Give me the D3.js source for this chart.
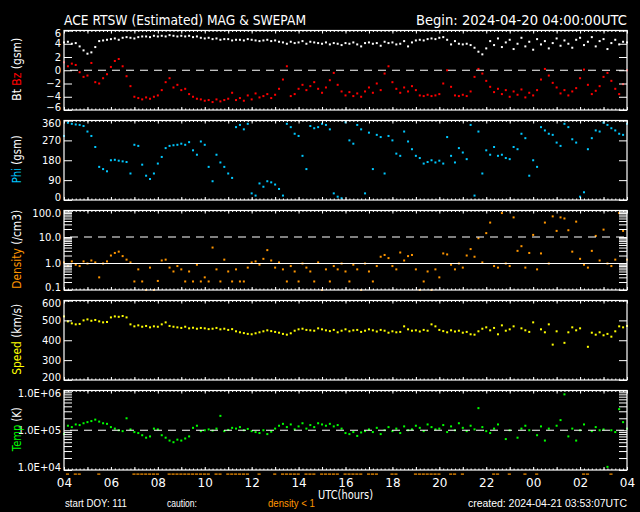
<!DOCTYPE html>
<html>
<head>
<meta charset="utf-8">
<script src="https://cdn.jsdelivr.net/npm/d3@7"></script>
<style>
  body { margin: 0; background: #000; }
  svg { display: block; }
  text { font-family: "DejaVu Sans", sans-serif; fill: #fff; }
  text.foot { font-family: "Liberation Sans", sans-serif; }
</style>
</head>
<body>
<svg id="chart"></svg>
<script>
// ACE RTSW, one sample every 10 minutes starting 2024-04-20 04:00 UTC
const startTime = new Date(Date.UTC(2024, 3, 20, 4, 0, 0));
const stepMinutes = 10;

const btValues = [
  4.2, 4.3, 4.0, 4.1, 3.6, 3.0, 2.5, 2.7, 3.5, 4.4, 4.5, 4.6,
  4.7, 4.8, 4.6, 4.9, 5.0, 4.9, 4.8, 5.0, 5.1, 5.1, 5.0, 5.2,
  5.1, 5.2, 5.1, 5.3, 5.2, 5.1, 5.2, 5.1, 5.2, 5.0, 5.1, 4.9,
  4.8, 4.9, 4.7, 4.8, 4.6, 4.7, 4.7, 4.5, 4.6, 4.6, 4.5, 4.7,
  4.6, 4.5, 4.4, 4.5, 4.6, 4.4, 4.5, 4.3, 4.2, 4.0, 4.3, 4.1,
  4.2, 4.4, 4.0, 4.3, 4.2, 4.1, 4.0, 4.2, 3.9, 4.1, 4.0, 3.8,
  4.1, 4.0, 4.2, 3.9, 3.6, 4.1, 4.2, 4.0, 4.1, 3.7, 4.3, 4.1,
  4.2, 3.9, 4.0, 4.4, 3.6, 4.2, 4.5, 4.6, 4.5, 4.7, 4.8, 4.7,
  4.9, 5.0, 4.6, 3.9, 4.4, 4.0, 3.9, 4.0, 3.8, 3.4, 2.8, 2.4,
  3.3, 4.4, 3.8, 4.8, 3.5, 4.2, 4.6, 3.2, 4.0, 4.9, 3.6, 4.3,
  3.1, 4.7, 3.9, 4.4, 3.3, 4.1, 4.8, 3.7, 4.5, 4.0, 3.4, 4.6,
  4.9, 3.8, 4.3, 5.0, 3.6, 4.4, 4.7, 3.2, 4.1, 4.6, 3.9, 4.3,
  4.2
];

const bzValues = [
  1.2, 0.6, 1.0, 0.8, -0.3, -1.0, -0.8, 1.1, -1.8, -2.0, -1.2, -0.6,
  0.5, 1.4, 1.7, 0.6, -0.9, -2.4, -4.0, -4.2, -4.4, -4.1, -4.3, -4.0,
  -3.8, -3.0, -1.8, -1.2, -2.6, -2.2, -3.0, -2.8, -3.6, -4.0, -4.3, -4.4,
  -4.6, -4.5, -4.8, -4.4, -4.7, -4.5, -4.3, -3.4, -4.5, -4.2, -4.6, -3.8,
  -4.4, -3.5, -4.1, -3.9, -3.6, -4.2, -3.7, -2.8, -1.4, 0.6, -3.9, -3.6,
  -2.8, -2.2, -3.0, -2.4, -1.8, -2.8, -3.4, -2.6, -1.5, -0.4, -2.2, -3.2,
  -3.8, -3.3, -3.9, -3.5, -4.0, -3.2, -2.6, -3.4, -2.0, -3.0, -0.5, 0.6,
  -1.8, -2.8, -3.4, -2.6, -3.2, -2.4, -3.0, -3.8, -3.9, -3.7, -3.9, -3.8,
  -3.6, -2.0, 0.0, -2.5, -3.8, -3.9, -3.7, -3.9, -3.2, -1.0, 0.2, -0.5,
  -1.6, -2.5, -3.3, -2.8, -3.6, -3.0, -4.0, -3.2, -3.7, -2.9, -4.1, -3.4,
  -3.8, -3.0, -1.4, 0.2, -0.8, -1.9, -2.6, -3.5, -3.0, -3.8, -3.2, -2.7,
  -1.2, 0.1, -2.2, -3.6, -3.1, -2.4, -1.0, -0.4, -1.6, -2.8, -3.6, -2.1,
  0.0
];

const phiValues = [
  290, 350, 345, 342, 340, 335, 310, 290, 240, 150, 140, 130,
  180, 182, 178, 175, 172, 120, 250, 245, 160, 110, 95, 120,
  165, 195, 235, 245, 248, 250, 255, 250, 262, 225, 205, 265,
  250, 150, 85, 205, 170, 150, 120, 100, 330, 340, 320, 345,
  30, 20, 75, 60, 85, 80, 70, 50, 20, 345, 330, 300,
  290, 200, 140, 335, 325, 330, 345, 340, 320, 30, 15, 8,
  352, 270, 255, 340, 320, 30, 305, 140, 295, 285, 120, 290,
  270, 210, 200, 310, 265, 230, 200, 190, 165, 172, 180, 170,
  178, 165, 285, 200, 170, 235, 215, 185, 340, 20, 310, 120,
  225, 205, 240, 200, 205, 190, 185, 240, 230, 300, 280, 110,
  180, 150, 330, 315, 300, 295, 260, 245, 345, 330, 275, 260,
  15, 35, 230, 280, 315, 310, 350, 340, 325, 315, 300, 295,
  345
];

const densityValues = [
  1.1, 0.8, 1.2, 0.9, 0.8, 1.2, 1.0, 1.3, 1.1, 0.3, 1.0, 1.2,
  2.0, 2.5, 2.8, 1.9, 1.4, 1.1, 0.21, 0.6, 0.21, 0.1, 0.7, 0.1,
  0.22, 1.3, 1.4, 0.7, 0.5, 0.8, 0.6, 0.21, 0.5, 0.21, 0.9, 0.21,
  0.3, 0.21, 4.0, 0.6, 0.21, 1.4, 0.5, 0.21, 0.6, 0.21, 0.21, 0.7,
  1.1, 1.2, 0.9, 1.5, 3.2, 1.3, 0.7, 1.1, 0.6, 0.21, 0.8, 0.5,
  0.21, 1.0, 0.7, 0.5, 0.21, 1.1, 0.1, 0.6, 0.21, 0.8, 0.6, 1.0,
  0.5, 0.21, 0.9, 0.6, 0.1, 1.0, 0.5, 0.21, 0.8, 1.8, 2.1, 1.6,
  0.8, 0.6, 2.6, 1.3, 1.9, 2.1, 0.6, 0.1, 0.21, 0.5, 0.1, 0.6,
  0.3, 2.4, 2.2, 0.9, 0.6, 1.0, 0.7, 2.0, 3.5, 1.8, 9.0, 1.1,
  14, 35, 0.8, 0.7, 80, 1.0, 0.8, 55, 3.0, 4.5, 0.7, 2.5,
  12, 0.6, 2.4, 35, 1.0, 60, 17, 55, 50, 18, 2.8, 38,
  1.5, 0.9, 0.7, 3.0, 11, 1.3, 19, 1.0, 0.8, 1.4, 80, 17,
  1.4
];

const speedValues = [
  520, 495, 485, 480, 482, 500, 505, 498, 502, 495, 490, 492,
  515, 520, 518, 522, 515, 480, 470, 475, 468, 472, 465, 470,
  468, 480, 490, 472, 468, 465, 462, 468, 460, 463, 458, 462,
  460, 456, 458, 462, 455, 458, 452, 456, 445, 440, 436, 432,
  430, 435, 440, 445, 450, 446, 442, 438, 432, 428, 435, 448,
  455, 458, 452, 450, 448, 460, 455, 450, 446, 452, 440, 448,
  455, 445, 450, 452, 442, 448, 455, 450, 444, 452, 448, 438,
  445, 440, 442, 470, 455, 448, 450, 444, 452, 448, 480, 470,
  452, 446, 440, 450, 444, 448, 438, 442, 430, 428, 445, 458,
  465, 450, 462, 430, 475, 448, 455, 470, null, 460, 450, 442,
  490, null, 455, 440, 480, 378, 445, null, 387, 440, 465, 450,
  460, null, 367, 438, 428, 440, 425, 432, 418, 445, 470, 465,
  472
];

const tempValues = [
  80000, 130000, 120000, 140000, 135000, 150000, 160000, 170000, 185000, 165000, 150000, 145000,
  120000, 110000, 100000, 95000, 200000, 105000, 90000, 85000, 75000, 65000, 70000, 110000,
  105000, 75000, 65000, 55000, 50000, 58000, 55000, 62000, 70000, 115000, 130000, 95000,
  100000, 105000, 98000, 110000, 230000, 95000, 102000, 115000, 110000, 120000, 100000, 108000,
  95000, 90000, 85000, 100000, 80000, 92000, 110000, 130000, 145000, 120000, 140000, 105000,
  125000, 150000, 110000, 135000, 120000, 150000, 140000, 130000, 145000, 125000, 135000, 110000,
  85000, 80000, 90000, 72000, 88000, 95000, 105000, 90000, 115000, 80000, 100000, 120000,
  95000, 110000, 85000, 125000, 100000, 105000, 130000, 115000, 95000, 140000, 120000, 105000,
  110000, 135000, 90000, 125000, 100000, 150000, 115000, 95000, 130000, 105000, 360000, 120000,
  95000, 85000, 110000, 140000, null, 60000, 100000, null, 65000, 110000, 130000, 100000,
  null, 75000, 125000, 55000, 110000, null, 130000, 180000, 800000, 70000, 110000, 55000,
  100000, 140000, null, 95000, 120000, 100000, 105000, 12000, 100000, 90000, 340000, 160000,
  110000
];

const btTicks = [-6, -4, -2, 0, 2, 4, 6];
const phiTicks = [0, 90, 180, 270, 360];
const densityLabels = [0.1, 1, 10, 100];
const speedTicks = [200, 300, 400, 500, 600];
const tempLabels = [1e4, 1e5, 1e6];

const width = 640, height = 512;
const left = 64, right = 627;
const panelHeight = 79.5;
const panelTop = i => 30.5 + i * 90;

const svg = d3.select("#chart")
    .attr("width", width)
    .attr("height", height)
    .style("background", "#000");

const endTime = d3.utcHour.offset(startTime, 24);
const x = d3.scaleUtc().domain([startTime, endTime]).range([left, right]);
const timeAt = i => d3.utcMinute.offset(startTime, i * stepMinutes);

const series = values => values
    .map((v, i) => ({ t: timeAt(i), v: v }))
    .filter(d => d.v != null);

const expLabel = d => "1.0E+0" + Math.round(Math.log10(d));

const panels = [
  { y: d3.scaleLinear().domain([-6, 6]), ticks: btTicks, labels: btTicks, fmt: d3.format("d"),
    data: [[series(btValues), "#ffffff"], [series(bzValues), "#ff0000"]],
    dashed: [0], solid: [] },
  { y: d3.scaleLinear().domain([0, 360]), ticks: phiTicks, labels: phiTicks, fmt: d3.format("d"),
    data: [[series(phiValues), "#00c8ff"]], dashed: [], solid: [] },
  { y: d3.scaleLog().domain([0.1, 100]).clamp(true), ticks: null, labels: densityLabels, fmt: d3.format(".1f"),
    data: [[series(densityValues), "#ff9600"]], dashed: [10], solid: [1] },
  { y: d3.scaleLinear().domain([200, 600]), ticks: speedTicks, labels: speedTicks, fmt: d3.format("d"),
    data: [[series(speedValues), "#ffff00"]], dashed: [], solid: [] },
  { y: d3.scaleLog().domain([1e4, 1e6]).clamp(true), ticks: null, labels: tempLabels, fmt: expLabel,
    data: [[series(tempValues), "#00ff00"]], dashed: [1e5], solid: [] }
];

panels.forEach((p, i) => {
  const top = panelTop(i), bottom = top + panelHeight;
  p.y.range([bottom, top]);
  const tickValues = p.ticks || p.y.ticks();
  const [lo, hi] = p.y.domain();

  const g = svg.append("g");

  // data points
  p.data.forEach(([pts, color]) => {
    g.append("g").selectAll("rect")
        .data(pts)
        .join("rect")
        .attr("x", d => x(d.t) - 1)
        .attr("y", d => p.y(d.v) - 1)
        .attr("width", 2)
        .attr("height", 2)
        .attr("fill", color);
  });

  // reference lines
  p.solid.forEach(v => {
    g.append("line").attr("x1", left).attr("x2", right)
        .attr("y1", p.y(v)).attr("y2", p.y(v))
        .attr("stroke", "#fff").attr("stroke-width", 1.2);
  });
  p.dashed.forEach(v => {
    g.append("line").attr("x1", left + 6).attr("x2", right)
        .attr("y1", p.y(v)).attr("y2", p.y(v))
        .attr("stroke", "#fff").attr("stroke-width", 1.2)
        .attr("stroke-dasharray", "8,6");
  });

  // left axis with labels, ticks inward
  const yLeft = g.append("g")
      .attr("transform", `translate(${left},0)`)
      .call(d3.axisLeft(p.y).tickValues(tickValues).tickSize(-8).tickSizeOuter(0).tickPadding(3)
          .tickFormat(d => p.labels.includes(d) ? p.fmt(d) : ""));
  yLeft.select(".domain").remove();
  yLeft.selectAll("line").attr("stroke", "#fff");
  yLeft.selectAll("text")
      .attr("fill", "#fff")
      .attr("y", d => d === hi ? 2.5 : d === lo ? -2.5 : 0)
      .style("font-size", "10px");

  const yRight = g.append("g")
      .attr("transform", `translate(${right},0)`)
      .call(d3.axisRight(p.y).tickValues(tickValues).tickSize(-8).tickSizeOuter(0).tickFormat(""));
  yRight.select(".domain").remove();
  yRight.selectAll("line").attr("stroke", "#fff");

  // time ticks on top and bottom edges
  [[d3.utcMinute.every(10), 1.5], [d3.utcHour.every(1), 3]].forEach(([every, len]) => {
    const ax1 = g.append("g").attr("transform", `translate(0,${top})`)
        .call(d3.axisTop(x).ticks(every).tickSize(-len).tickSizeOuter(0).tickFormat(""));
    const ax2 = g.append("g").attr("transform", `translate(0,${bottom})`)
        .call(d3.axisBottom(x).ticks(every).tickSize(-len).tickSizeOuter(0).tickFormat(""));
    [ax1, ax2].forEach(a => {
      a.select(".domain").remove();
      a.selectAll("line").attr("stroke", "#fff");
    });
  });

  g.append("rect")
      .attr("x", left).attr("y", top)
      .attr("width", right - left).attr("height", panelHeight)
      .attr("fill", "none").attr("stroke", "#fff").attr("stroke-width", 1.2);
});

// hour labels under the last panel
const lastBottom = panelTop(4) + panelHeight;
const xAxis = svg.append("g")
    .attr("transform", `translate(0,${lastBottom})`)
    .call(d3.axisBottom(x).ticks(d3.utcHour.every(2)).tickSize(0).tickPadding(8)
        .tickFormat(d3.utcFormat("%H")));
xAxis.select(".domain").remove();
xAxis.selectAll("text").attr("fill", "#fff").style("font-size", "12px");

// density < 1 caution marks
const stepPx = x(timeAt(1)) - x(timeAt(0));
svg.append("g").selectAll("rect")
    .data(series(densityValues).filter(d => d.v < 1))
    .join("rect")
    .attr("x", d => x(d.t) - stepPx / 2)
    .attr("y", lastBottom + 3.5)
    .attr("width", stepPx * 0.8)
    .attr("height", 1.2)
    .attr("fill", "#ff9600");

// titles
svg.append("text").attr("x", 64).attr("y", 25)
    .attr("textLength", 242).attr("lengthAdjust", "spacingAndGlyphs")
    .style("font-size", "14px")
    .text("ACE RTSW (Estimated) MAG & SWEPAM");
svg.append("text").attr("x", 416).attr("y", 25)
    .attr("textLength", 211).attr("lengthAdjust", "spacingAndGlyphs")
    .style("font-size", "14px")
    .text("Begin: 2024-04-20 04:00:00UTC");

// rotated y labels
const yLabels = [
  { parts: [["Bt ", "#fff"], ["Bz", "#ff0000"], [" (gsm)", "#fff"]], len: 63 },
  { parts: [["Phi", "#00c8ff"], [" (gsm)", "#fff"]], len: 48 },
  { parts: [["Density", "#ff9600"], [" (/cm3)", "#fff"]], len: 79 },
  { parts: [["Speed", "#ffff00"], [" (km/s)", "#fff"]], len: 71 },
  { parts: [["Temp", "#00ff00"], [" (K)", "#fff"]], len: 44 }
];
yLabels.forEach((lab, i) => {
  const cy = panelTop(i) + panelHeight / 2 - 1;
  const t = svg.append("text")
      .attr("transform", `translate(21,${cy}) rotate(-90)`)
      .attr("text-anchor", "middle")
      .attr("textLength", lab.len).attr("lengthAdjust", "spacingAndGlyphs")
      .style("font-size", "12px");
  lab.parts.forEach(([s, c]) => t.append("tspan").attr("fill", c).style("fill", c).text(s));
});

// footer
svg.append("text").attr("x", 345.5).attr("y", 499).attr("text-anchor", "middle")
    .attr("textLength", 55).attr("lengthAdjust", "spacingAndGlyphs")
    .style("font-size", "12px").text("UTC(hours)");
svg.append("text").attr("class", "foot").attr("x", 65).attr("y", 507)
    .attr("textLength", 62).attr("lengthAdjust", "spacingAndGlyphs")
    .style("font-size", "10.5px").text("start DOY: 111");
svg.append("text").attr("class", "foot").attr("x", 167).attr("y", 507)
    .attr("textLength", 30).attr("lengthAdjust", "spacingAndGlyphs")
    .style("font-size", "10.5px").text("caution:");
svg.append("text").attr("class", "foot").attr("x", 268).attr("y", 507)
    .attr("textLength", 47).attr("lengthAdjust", "spacingAndGlyphs")
    .style("font-size", "10.5px").style("fill", "#ff9600").text("density < 1");
svg.append("text").attr("class", "foot").attr("x", 468).attr("y", 507)
    .attr("textLength", 159).attr("lengthAdjust", "spacingAndGlyphs")
    .style("font-size", "10px").text("created: 2024-04-21 03:53:07UTC");
</script>
</body>
</html>
